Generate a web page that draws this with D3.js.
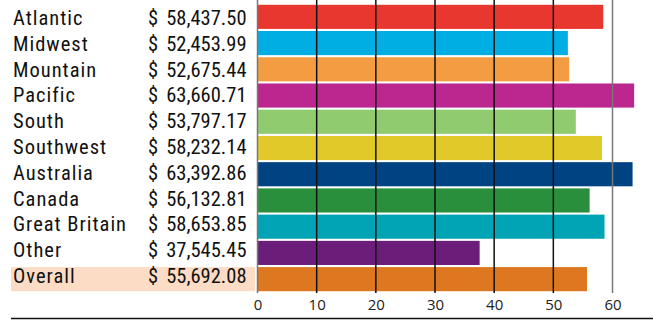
<!DOCTYPE html>
<html>
<head>
<meta charset="utf-8">
<script src="https://cdn.jsdelivr.net/npm/d3@7"></script>
<style>
  body { margin: 0; background: #fff; }
  svg { display: block; }
</style>
</head>
<body>
<svg id="chart"></svg>
<script>
const regions = ["Atlantic", "Midwest", "Mountain", "Pacific", "South", "Southwest",
    "Australia", "Canada", "Great Britain", "Other", "Overall"];
const salaries = [58437.50, 52453.99, 52675.44, 63660.71, 53797.17, 58232.14,
    63392.86, 56132.81, 58653.85, 37545.45, 55692.08];
const barColors = ["#e8372f", "#00aee3", "#f39c42", "#bb268f", "#90cb70", "#e2c92a",
    "#004383", "#2a8f3d", "#00a4b4", "#6a1e79", "#de7820"];
const ticks = [0, 10, 20, 30, 40, 50, 60];

const width = 653, height = 320;
const svg = d3.select("#chart").attr("width", width).attr("height", height);

const x = d3.scaleLinear().domain([0, 60]).range([257.5, 612.5]);
const y = d3.scaleBand().domain(regions).range([4, 292]).paddingInner(0.08).paddingOuter(0.03);
// table text rows sit on a slightly tighter pitch than the bars
const textY = d3.scalePoint().domain(regions).range([25, 283]);

const fmt = d3.format(",.2f");
const labelFont = "'Liberation Sans Narrow', 'Roboto Condensed', 'DejaVu Sans Condensed', sans-serif";

// highlight row for overall
svg.append("rect")
    .attr("x", 11)
    .attr("y", y("Overall"))
    .attr("width", 244)
    .attr("height", y.bandwidth())
    .attr("fill", "#fddcc6");

// bars
svg.selectAll(".bar")
    .data(regions)
    .enter().append("rect")
    .attr("class", "bar")
    .attr("x", x(0) + 0.5)
    .attr("y", d => y(d))
    .attr("width", (d, i) => x(salaries[i] / 1000) - x(0) - 0.5)
    .attr("height", y.bandwidth())
    .attr("fill", (d, i) => barColors[i]);

// grid lines drawn over bars
svg.selectAll(".grid")
    .data(ticks)
    .enter().append("line")
    .attr("class", "grid")
    .attr("x1", d => x(d)).attr("x2", d => x(d))
    .attr("y1", 0).attr("y2", 293)
    .attr("stroke", d => (d === 0 || d === 60) ? "#777" : "#111")
    .attr("stroke-width", 1.5);

// axis labels
const xaxis = d3.axisBottom(x).tickValues(ticks).tickSize(0).tickPadding(6);
const axisG = svg.append("g").attr("transform", "translate(0,293)").call(xaxis);
axisG.select(".domain").remove();
axisG.selectAll("text")
    .attr("font-family", "'Open Sans', 'Noto Sans', sans-serif")
    .attr("font-size", 15)
    .attr("fill", "#222");

// region names
svg.selectAll(".name")
    .data(regions)
    .enter().append("text")
    .attr("class", "name")
    .attr("x", 13)
    .attr("y", d => textY(d))
    .attr("font-family", labelFont)
    .attr("font-size", 20.5)
    .attr("letter-spacing", 1)
    .attr("fill", "#111")
    .text(d => d);

// dollar signs and values
svg.selectAll(".dollar")
    .data(regions)
    .enter().append("text")
    .attr("class", "dollar")
    .attr("x", 148)
    .attr("y", d => textY(d))
    .attr("font-family", labelFont)
    .attr("font-size", 20.5)
    .attr("fill", "#111")
    .text("$");

svg.selectAll(".value")
    .data(regions)
    .enter().append("text")
    .attr("class", "value")
    .attr("x", 246.5)
    .attr("y", d => textY(d))
    .attr("text-anchor", "end")
    .attr("font-family", labelFont)
    .attr("font-size", 20.5)
    .attr("fill", "#111")
    .text((d, i) => fmt(salaries[i]));

// bottom rule
svg.append("line")
    .attr("x1", 11).attr("x2", width)
    .attr("y1", 318.5).attr("y2", 318.5)
    .attr("stroke", "#111")
    .attr("stroke-width", 1.5);
</script>
</body>
</html>
